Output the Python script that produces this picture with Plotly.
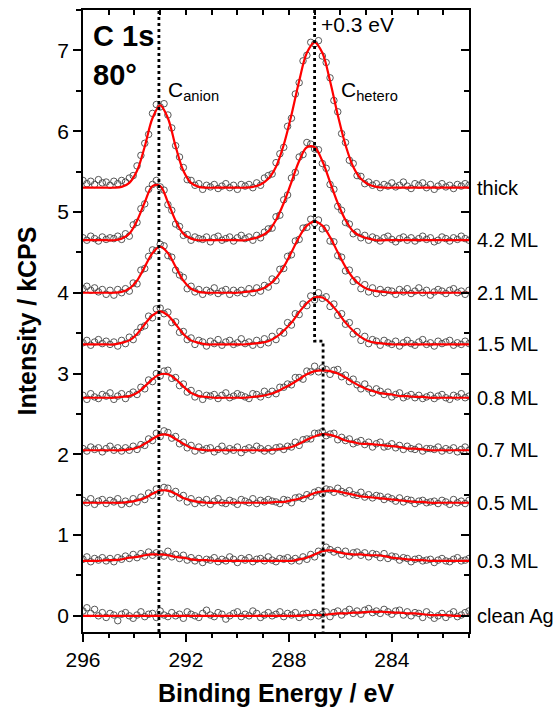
import plotly.graph_objects as go

# Binding energy grid of the measured points (eV)
energy = [296.00, 295.85, 295.70, 295.55, 295.40, 295.25, 295.10, 294.95, 294.80, 294.65,
          294.50, 294.35, 294.20, 294.05, 293.90, 293.75, 293.60, 293.45, 293.30, 293.15,
          293.00, 292.85, 292.70, 292.55, 292.40, 292.25, 292.10, 291.95, 291.80, 291.65,
          291.50, 291.35, 291.20, 291.05, 290.90, 290.75, 290.60, 290.45, 290.30, 290.15,
          290.00, 289.85, 289.70, 289.55, 289.40, 289.25, 289.10, 288.95, 288.80, 288.65,
          288.50, 288.35, 288.20, 288.05, 287.90, 287.75, 287.60, 287.45, 287.30, 287.15,
          287.00, 286.85, 286.70, 286.55, 286.40, 286.25, 286.10, 285.95, 285.80, 285.65,
          285.50, 285.35, 285.20, 285.05, 284.90, 284.75, 284.60, 284.45, 284.30, 284.15,
          284.00, 283.85, 283.70, 283.55, 283.40, 283.25, 283.10, 282.95, 282.80, 282.65,
          282.50, 282.35, 282.20, 282.05, 281.90, 281.75, 281.60, 281.45, 281.30, 281.15,
          281.00]
fit_energy = energy[::2]

labels = ["thick", "4.2 ML", "2.1 ML", "1.5 ML", "0.8 ML", "0.7 ML", "0.5 ML", "0.3 ML", "clean Ag"]
offsets = [5.30, 4.65, 4.00, 3.36, 2.70, 2.05, 1.40, 0.68, 0.00]

# measured intensities relative to each spectrum's baseline (kCPS)
thick_data = [0.09, 0.05, 0.08, 0.04, 0.10, 0.06, 0.07, 0.03,
              0.08, 0.05, 0.09, 0.07, 0.12, 0.15, 0.27, 0.40, 0.55, 0.66, 0.92, 1.03,
              1.00, 1.04, 0.90, 0.74, 0.52, 0.38, 0.25, 0.10, 0.09, 0.03, 0.05, -0.02,
              0.03, 0.01, 0.04, -0.01, 0.02, 0.05, 0.00, 0.03, -0.02, 0.04, 0.02,
              0.04, 0.00, 0.06, 0.03, 0.12, 0.15, 0.17, 0.31, 0.42, 0.50, 0.76, 0.86, 1.16, 1.30, 1.57, 1.64, 1.80,
              1.78, 1.82, 1.63, 1.55, 1.36, 1.08, 0.94, 0.67, 0.56, 0.34, 0.30, 0.15, 0.14, 0.05, 0.07, 0.03, 0.05, 0.00,
              0.04, 0.02, 0.06, 0.01, 0.03, 0.07, 0.02, -0.01, 0.05, 0.03, 0.06, 0.00, 0.04, -0.02, 0.02, 0.05,
              0.01, 0.03, -0.01, 0.04, 0.02, 0.05, 0.03]
ml42_data = [0.03, 0.00, 0.05, 0.02, -0.01, 0.04, 0.01, 0.03,
             0.02, 0.05, 0.01, 0.08, 0.05, 0.19, 0.22, 0.39, 0.45, 0.63, 0.69, 0.74, 0.66, 0.62, 0.44, 0.37,
             0.20, 0.17, 0.06, 0.07, 0.00, 0.04, 0.02,
             0.01, 0.04, -0.02, 0.03, 0.05, 0.00, 0.02, 0.04, -0.01, 0.03, 0.06, 0.02,
             0.04, 0.00, 0.06, 0.03, 0.10, 0.14, 0.15, 0.29, 0.31, 0.50, 0.56, 0.77, 0.84, 1.03, 1.06, 1.21,
             1.19, 1.13, 1.12, 0.95, 0.89, 0.69, 0.63, 0.42, 0.37, 0.22, 0.20, 0.08, 0.10, 0.03, 0.06, 0.00, 0.04,
             0.02, -0.01, 0.03, 0.05, 0.01, -0.02, 0.02, 0.04, 0.00, 0.03, -0.01, 0.02, 0.05, 0.01, 0.03,
             -0.02, 0.00, 0.04, 0.02, -0.01, 0.03, 0.01, 0.05, 0.02, 0.00]
ml21_data = [0.05, 0.08, 0.03, 0.06, 0.01, 0.04, -0.02, 0.03,
             -0.03, 0.04, 0.00, 0.05, 0.02, 0.12, 0.11, 0.28, 0.30, 0.45, 0.53, 0.52, 0.60, 0.58, 0.46, 0.44,
             0.28, 0.22, 0.19, 0.05, 0.08, 0.01, 0.04, -0.02, 0.03,
             0.01, 0.06, -0.01, 0.02, 0.04, -0.02, 0.03, 0.00,
             0.03, -0.01, 0.05, 0.00, 0.06, 0.02, 0.09, 0.07, 0.17, 0.15, 0.29, 0.30, 0.45, 0.47, 0.64, 0.66,
             0.80, 0.81, 0.91, 0.86, 0.90, 0.79, 0.80, 0.64, 0.63, 0.46, 0.44, 0.27, 0.28, 0.14, 0.16, 0.05,
             0.10, 0.01, 0.06, -0.01, 0.04, 0.00, 0.03,
             0.02, -0.02, 0.04, 0.01, 0.05, -0.01, 0.02, 0.06, 0.00, 0.03, -0.03, 0.01, 0.04, 0.02, -0.01,
             0.03, 0.05, 0.00, 0.02, -0.02, 0.03]
ml15_data = [0.02, 0.05, -0.01, 0.03, 0.06, 0.01, 0.04, 0.00,
             0.03, -0.02, 0.05, 0.01, 0.09, 0.06, 0.15, 0.21, 0.23, 0.35, 0.33, 0.44, 0.45, 0.38, 0.40, 0.27,
             0.28, 0.15, 0.16, 0.06, 0.08, 0.00, 0.05, 0.03, -0.02,
             0.04, 0.01, 0.06, -0.01, 0.03, 0.05, 0.00, 0.02, 0.07, 0.01,
             0.03, -0.01, 0.05, 0.00, 0.07, 0.02, 0.10, 0.06, 0.16, 0.14, 0.27, 0.24, 0.38, 0.37, 0.50, 0.48,
             0.60, 0.55, 0.64, 0.57, 0.59, 0.47, 0.50, 0.36, 0.38, 0.25, 0.27, 0.13, 0.16, 0.05, 0.10, 0.01,
             0.06, 0.04, -0.01, 0.05, 0.02,
             0.00, 0.04, -0.02, 0.02, 0.05, 0.01, -0.01, 0.03, 0.06, 0.00, 0.02, -0.02, 0.04, 0.01, 0.03,
             0.05, -0.01, 0.02, 0.00, 0.04, 0.01]
ml08_data = [0.03, -0.02, 0.05, 0.01, -0.01, 0.04, 0.02, 0.06, -0.02,
             0.02, 0.05, -0.01, 0.04, 0.07, 0.04, 0.13, 0.11, 0.22, 0.20, 0.30, 0.27, 0.33, 0.34, 0.24, 0.25,
             0.15, 0.17, 0.07, 0.09, 0.01, 0.05, -0.02, 0.03, 0.02,
             0.04, -0.01, 0.03, 0.06, 0.00, 0.02, 0.05,
             0.03, 0.01, -0.01, 0.05, 0.04, 0.01, 0.08, 0.04, 0.08, 0.05, 0.13, 0.13, 0.17, 0.16, 0.25, 0.25,
             0.23, 0.33, 0.32, 0.39, 0.32, 0.37, 0.35, 0.29, 0.34, 0.35, 0.26, 0.28, 0.20, 0.23, 0.16, 0.11,
             0.17, 0.11, 0.06, 0.11, 0.08, 0.04, 0.07, 0.01, 0.04, 0.06, 0.00, 0.02, 0.04, 0.00, 0.03, -0.01, 0.01,
             0.03, -0.01, 0.02, 0.04, 0.00, -0.02, 0.03, 0.01, 0.05, 0.00, 0.02]
ml07_data = [0.02, -0.01, 0.04, 0.01, 0.03, -0.02, 0.02, 0.05, 0.00, 0.03,
             -0.01, 0.03, 0.00, 0.05, 0.01, 0.07, 0.06, 0.14, 0.12, 0.21, 0.17, 0.24, 0.22, 0.15, 0.17,
             0.08, 0.10, 0.03, 0.06, -0.01, 0.04, 0.00, 0.02,
             0.03, -0.02, 0.01, 0.05, -0.01, 0.02, 0.00, 0.04, -0.03, 0.01, 0.03, 0.00, 0.05, 0.02, -0.01,
             0.02, -0.01, 0.03, 0.04, 0.01, 0.05, 0.04, 0.10, 0.06, 0.13, 0.14, 0.14, 0.21, 0.21, 0.23, 0.18,
             0.20, 0.21, 0.13, 0.16, 0.12, 0.14, 0.08, 0.10, 0.12, 0.07, 0.10, 0.04, 0.08, 0.10, 0.04, 0.05,
             0.08, 0.03, 0.06, 0.01, 0.05, 0.02, 0.01, 0.04, -0.01, 0.02, 0.02,
             0.01, 0.04, -0.01, 0.02, 0.00, 0.03, -0.02, 0.01, 0.04, 0.00]
ml05_data = [0.03, 0.00, 0.05, -0.02, 0.02, 0.04, -0.01, 0.03, 0.01, 0.05, -0.02,
             0.02, -0.01, 0.05, 0.01, 0.07, 0.04, 0.12, 0.09, 0.17, 0.13, 0.19, 0.18, 0.11, 0.14, 0.06,
             0.09, 0.01, 0.05, -0.01, 0.03,
             0.00, 0.04, -0.02, 0.02, 0.05, 0.00, -0.01, 0.03, 0.01, -0.02, 0.04, 0.02, 0.00, 0.05, -0.01,
             0.03, 0.01, 0.04,
             0.02, 0.01, -0.01, 0.04, 0.03, 0.00, 0.06, 0.07, 0.05, 0.10, 0.08, 0.13, 0.15, 0.11, 0.17, 0.16,
             0.13, 0.18, 0.14, 0.12, 0.15, 0.10, 0.09, 0.13, 0.07, 0.10, 0.06, 0.09, 0.08, 0.04, 0.07, 0.05,
             0.02, 0.06, 0.01, 0.04, 0.03, -0.01, 0.02, 0.03, 0.00, 0.01,
             0.02, -0.01, 0.03, 0.01, -0.02, 0.04, 0.00, 0.02, -0.01, 0.03]
ml03_data = [0.02, 0.05, -0.01, 0.03, 0.01, 0.04,
             0.00, 0.03, -0.01, 0.04, 0.02, 0.06, 0.03, 0.08, 0.04, 0.09, 0.06, 0.11, 0.07, 0.10, 0.09,
             0.06, 0.12, 0.05, 0.08, 0.03, 0.07, 0.01, 0.04, 0.00, 0.03, -0.02, 0.02,
             0.01, 0.04, -0.01, 0.02, 0.00, 0.05, 0.02, -0.02, 0.03, 0.01, 0.04, -0.01, 0.02, 0.03, 0.00,
             0.05, 0.01, -0.01, 0.03, 0.02, 0.04, 0.00,
             0.03, 0.00, 0.05, 0.02, 0.08, 0.05, 0.12, 0.10, 0.17, 0.14, 0.11, 0.13, 0.08, 0.12, 0.06, 0.10,
             0.11, 0.07, 0.10, 0.05, 0.09, 0.08, 0.04, 0.09, 0.03, 0.06, 0.05, 0.01, 0.04, 0.03, -0.01, 0.02,
             0.03, 0.00, 0.01,
             0.02, -0.02, 0.01, 0.03, 0.00, -0.01, 0.02, 0.04, 0.00, 0.01, 0.03]
clean_data = [0.06, 0.10, 0.03, 0.08, 0.00, 0.04, -0.02, 0.03, 0.01, -0.06,
              0.02, 0.04, 0.00, -0.03, 0.01, 0.05, -0.01, 0.02, 0.03, -0.02,
              0.06, 0.01, -0.01, 0.04, 0.00, 0.02, -0.03, 0.05, 0.02, 0.00,
              -0.02, 0.03, 0.07, 0.01, -0.01, 0.04, 0.02, -0.04, 0.00, 0.03,
              0.05, -0.01, 0.02, 0.00, 0.06, 0.03, -0.02, 0.01, 0.04, 0.00,
              0.02, 0.05, -0.01, 0.03, 0.01, 0.04, -0.02, 0.02,
              0.03, -0.01, 0.04, 0.00, 0.02, 0.05, -0.01, 0.04, 0.06, 0.01,
              0.05, 0.08, 0.03, 0.06, 0.02, 0.07, 0.09, 0.04, 0.06, 0.03,
              0.08, 0.05, 0.02, 0.06, 0.07, 0.01, 0.05, 0.00, 0.04, 0.03,
              -0.02, 0.05, 0.01, -0.03, 0.00, 0.03, -0.02,
              0.02, 0.05, -0.01, 0.01, 0.04, 0.06]

# fitted envelopes relative to baseline (sampled every 0.3 eV)
thick_fit = [0, 0, 0, 0, 0, 0.01, 0.06, 0.21, 0.51, 0.86, 1.02, 0.86, 0.51, 0.21, 0.06, 0.01,
             0, 0, 0, 0, 0, 0,
             0.01, 0.04, 0.11, 0.26, 0.53, 0.90, 1.32, 1.67, 1.80, 1.67, 1.32, 0.90, 0.53, 0.26, 0.11, 0.04, 0.01,
             0, 0, 0, 0, 0, 0, 0, 0, 0, 0, 0, 0]
ml42_fit = [0, 0, 0, 0, 0, 0.02, 0.08, 0.24, 0.47, 0.67, 0.67, 0.47, 0.24, 0.08, 0.02, 0,
            0, 0, 0, 0, 0,
            0, 0.02, 0.05, 0.11, 0.25, 0.46, 0.72, 0.98, 1.15, 1.15, 0.98, 0.72, 0.46, 0.25, 0.11, 0.05, 0.02, 0,
            0, 0, 0, 0, 0, 0, 0, 0, 0, 0, 0, 0]
ml21_fit = [0, 0, 0, 0, 0, 0.01, 0.05, 0.15, 0.32, 0.49, 0.57, 0.49, 0.32, 0.15, 0.05, 0.01, 0,
            0, 0, 0, 0,
            0.01, 0.02, 0.04, 0.09, 0.18, 0.32, 0.50, 0.69, 0.83, 0.88, 0.83, 0.69, 0.50, 0.32, 0.18, 0.09,
            0.04, 0.02, 0.01,
            0, 0, 0, 0, 0, 0, 0, 0, 0, 0, 0]
ml15_fit = [0, 0, 0, 0, 0, 0.02, 0.05, 0.13, 0.25, 0.36, 0.41, 0.36, 0.25, 0.13, 0.05, 0.02, 0,
            0, 0, 0, 0, 0,
            0.01, 0.02, 0.04, 0.09, 0.17, 0.27, 0.40, 0.51, 0.58, 0.58, 0.51, 0.40, 0.27, 0.17, 0.09, 0.04,
            0.02, 0.01,
            0, 0, 0, 0, 0, 0, 0, 0, 0, 0, 0]
ml08_fit = [0, 0, 0, 0, 0, 0.01, 0.02, 0.06, 0.14, 0.23, 0.29, 0.29, 0.23, 0.14, 0.06, 0.02, 0.01,
            0, 0, 0, 0, 0,
            0.01, 0.02, 0.04, 0.07, 0.12, 0.17, 0.23, 0.29, 0.33, 0.34, 0.33, 0.30, 0.25, 0.19, 0.14, 0.10,
            0.07, 0.05, 0.04, 0.02, 0.02, 0.01, 0.01,
            0, 0, 0, 0, 0, 0]
ml07_fit = [0, 0, 0, 0, 0, 0, 0.01, 0.03, 0.08, 0.14, 0.19, 0.19, 0.14, 0.08, 0.03, 0.01, 0,
            0, 0, 0, 0, 0, 0, 0, 0,
            0.01, 0.02, 0.04, 0.08, 0.13, 0.17, 0.20, 0.19, 0.16, 0.12, 0.10, 0.08, 0.08, 0.07, 0.06, 0.05,
            0.04, 0.02, 0.02, 0.01,
            0, 0, 0, 0, 0, 0]
ml05_fit = [0, 0, 0, 0, 0, 0, 0.01, 0.03, 0.06, 0.11, 0.15, 0.15, 0.11, 0.06, 0.03, 0.01,
            0, 0, 0, 0, 0, 0, 0, 0, 0,
            0.01, 0.01, 0.03, 0.05, 0.08, 0.12, 0.14, 0.15, 0.14, 0.12, 0.10, 0.08, 0.07, 0.06, 0.05, 0.04,
            0.03, 0.02, 0.01, 0.01,
            0, 0, 0, 0, 0, 0]
ml03_fit = [0, 0, 0, 0.01, 0.01, 0.02, 0.04, 0.05, 0.07, 0.08, 0.08, 0.07, 0.05, 0.04, 0.02, 0.01, 0.01,
            0, 0, 0, 0, 0, 0, 0, 0, 0, 0, 0,
            0.02, 0.04, 0.08, 0.12, 0.13, 0.11, 0.09, 0.08, 0.08, 0.07, 0.07, 0.06, 0.04, 0.03, 0.02, 0.01, 0.01,
            0, 0, 0, 0, 0, 0]
clean_fit = [0, 0, 0, 0, 0, 0, 0, 0, 0, 0, 0, 0, 0, 0, 0, 0, 0, 0, 0, 0, 0, 0, 0, 0, 0, 0, 0, 0, 0,
             0.01, 0.01, 0.01, 0.02, 0.03, 0.03, 0.04, 0.04, 0.05, 0.05, 0.05, 0.04, 0.04, 0.03, 0.03,
             0.02, 0.01, 0.01, 0.01,
             0, 0, 0]

data_series = [thick_data, ml42_data, ml21_data, ml15_data, ml08_data, ml07_data, ml05_data, ml03_data, clean_data]
fit_series = [thick_fit, ml42_fit, ml21_fit, ml15_fit, ml08_fit, ml07_fit, ml05_fit, ml03_fit, clean_fit]

# peak-position markers (eV / kCPS)
anion_line_x = [293.05, 293.05]
anion_line_y = [-0.2, 7.5]
hetero_line_x = [287.0, 287.0, 286.67, 286.67]
hetero_line_y = [7.5, 3.40, 3.40, -0.2]

x_range = [296, 281]
y_range = [-0.2, 7.5]

FONT = "Liberation Sans, Arial, Helvetica, sans-serif"

fig = go.Figure()

for rel, off in zip(data_series, offsets):
    fig.add_trace(go.Scatter(
        x=energy, y=[v + off for v in rel], mode="markers",
        marker=dict(symbol="circle-open", size=6.5, color="#444444", line=dict(width=0.9)),
        showlegend=False, hoverinfo="skip"))

for rel, off in zip(fit_series, offsets):
    fig.add_trace(go.Scatter(
        x=fit_energy, y=[v + off for v in rel], mode="lines",
        line=dict(color="#ff0000", width=2.2, shape="spline", smoothing=1.0),
        showlegend=False, hoverinfo="skip"))

fig.add_trace(go.Scatter(x=anion_line_x, y=anion_line_y, mode="lines",
                         line=dict(color="black", width=2.8, dash="dot"),
                         showlegend=False, hoverinfo="skip"))
fig.add_trace(go.Scatter(x=hetero_line_x, y=hetero_line_y, mode="lines",
                         line=dict(color="black", width=2.8, dash="dot"),
                         showlegend=False, hoverinfo="skip"))

# invisible trace to activate mirrored (inside-tick) axes
fig.add_trace(go.Scatter(x=[energy[0]], y=[offsets[-1]], xaxis="x2", yaxis="y2",
                         mode="markers", marker=dict(opacity=0), showlegend=False, hoverinfo="skip"))

axis_common = dict(showline=True, linecolor="black", linewidth=1.5, showgrid=False,
                   zeroline=False, tickcolor="black", tickwidth=1.5, automargin=False)

fig.update_layout(
    width=557, height=707, autosize=False,
    margin=dict(l=83, r=88, t=10, b=75),
    paper_bgcolor="white", plot_bgcolor="white",
    font=dict(family=FONT, color="black"),
    showlegend=False,
    xaxis=dict(range=x_range, ticks="outside", ticklen=8, tick0=296, dtick=4,
               minor=dict(tick0=296, dtick=1, ticks="outside", ticklen=4, tickwidth=1.5, tickcolor="black"),
               tickfont=dict(size=21, family=FONT),
               title=dict(text="<b>Binding Energy / eV</b>", font=dict(size=25, family=FONT), standoff=28),
               **axis_common),
    yaxis=dict(range=y_range, ticks="outside", ticklen=8, tick0=0, dtick=1,
               minor=dict(tick0=0, dtick=0.5, ticks="outside", ticklen=5, tickwidth=1.5, tickcolor="black"),
               tickfont=dict(size=21, family=FONT),
               title=dict(text="<b>Intensity / kCPS</b>", font=dict(size=25, family=FONT), standoff=14),
               **axis_common),
    xaxis2=dict(range=x_range, overlaying="x", side="top", ticks="inside", ticklen=5,
                tick0=296, dtick=1, showticklabels=False, **axis_common),
    yaxis2=dict(range=y_range, overlaying="y", side="right", ticks="inside", ticklen=8,
                tick0=0, dtick=1, showticklabels=False,
                minor=dict(tick0=0, dtick=0.5, ticks="inside", ticklen=5, tickwidth=1.5, tickcolor="black"),
                **axis_common),
)

annotations = []
for lab, off in zip(labels, offsets):
    annotations.append(dict(text=lab, x=1, xref="paper", xshift=6, xanchor="left",
                            y=off, yref="y", yanchor="middle", showarrow=False,
                            font=dict(size=20, family=FONT, color="black")))

annotations += [
    dict(text="<b>C 1s</b>", x=0.022, y=0.958, xref="paper", yref="paper",
         xanchor="left", yanchor="middle", showarrow=False, font=dict(size=29, family=FONT)),
    dict(text="<b>80°</b>", x=0.022, y=0.895, xref="paper", yref="paper",
         xanchor="left", yanchor="middle", showarrow=False, font=dict(size=29, family=FONT)),
    dict(text="C<sub>anion</sub>", x=0.216, y=0.870, xref="paper", yref="paper",
         xanchor="left", yanchor="middle", showarrow=False, font=dict(size=21, family=FONT)),
    dict(text="C<sub>hetero</sub>", x=0.664, y=0.870, xref="paper", yref="paper",
         xanchor="left", yanchor="middle", showarrow=False, font=dict(size=21, family=FONT)),
    dict(text="+0.3 eV", x=0.612, y=0.976, xref="paper", yref="paper",
         xanchor="left", yanchor="middle", showarrow=False, font=dict(size=21, family=FONT)),
]
fig.update_layout(annotations=annotations)

fig.write_html("out.html",
               config={"displayModeBar": False},
               post_script="document.body.style.margin='0';document.body.style.padding='0';")
